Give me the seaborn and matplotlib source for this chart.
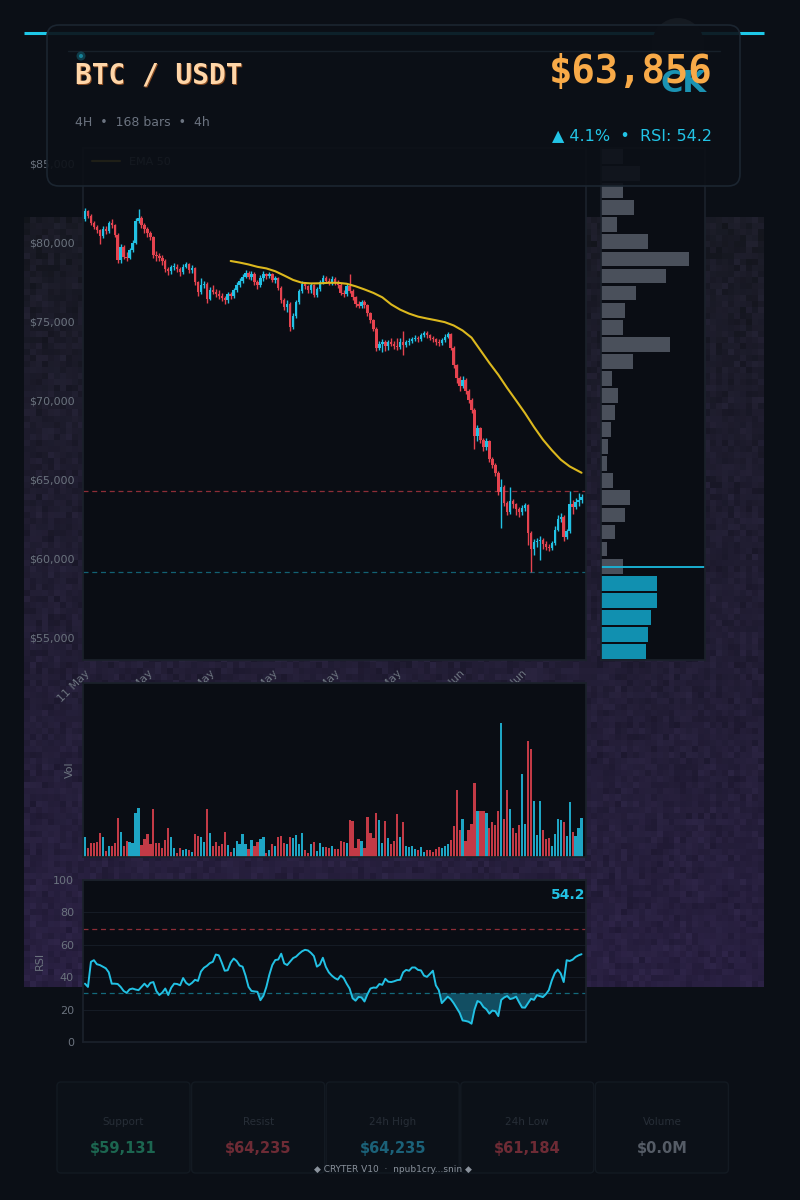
import numpy as np
import pandas as pd
import matplotlib
matplotlib.use("Agg")
import matplotlib.pyplot as plt
import seaborn as sns
from matplotlib.patches import FancyBboxPatch, Circle

# ---------------- data ----------------
START = "2024-05-11 00:00"
FIRST_OPEN = 81450
closes = [
    81950, 81650, 81200, 80950, 80750, 80400, 80850, 80700, 81200, 81050,
    80450, 78850, 79700, 79050, 79000, 79500, 79950, 81300, 81500, 81050,
    80800, 80600, 80300, 79150, 79100, 79000, 78800, 78300, 78150, 78400,
    78450, 78300, 78100, 78450, 78600, 78200, 78350, 77450, 76850, 77250,
    77350, 76400, 76950, 76850, 76700, 76600, 76450, 76300, 76700, 76600,
    76950, 77300, 77550, 77800, 78050, 77800, 78000, 77500, 77300, 77700,
    77950, 77850, 77950, 77600, 77700, 77100, 76300, 75900, 76100, 74650,
    75350, 76200, 76900, 77350, 77200, 76950, 77250, 76650, 77000, 77450,
    77700, 77550, 77400, 77650, 77450, 77300, 76800, 76700, 77200, 76900,
    76500, 76050, 75950, 76200, 76000, 75500, 75050, 74500, 73300, 73550,
    73700, 73400, 73650, 73550, 73450, 73350, 73700, 73500, 73650, 73750,
    73850, 73950, 73850, 74100, 74250, 74100, 73950, 73850, 73700, 73600,
    73800, 74000, 74150, 73300, 72200, 71400, 70900, 71300, 70600, 70000,
    69400, 67700, 68200, 67500, 67000, 67400, 66300, 65900, 65400, 64200,
    64500, 63500, 62900, 63600, 63400, 63100, 62900, 63200, 63350, 61600,
    60600, 61000, 61050, 61150, 60900, 60700, 60650, 60950, 61800, 62450,
    62600, 61330, 61700, 63400, 63250, 63550, 63700, 63856]
highs = [
    82150, 82050, 81750, 81350, 81100, 80850, 81000, 81000, 81350, 81450,
    81150, 80550, 79850, 79800, 79350, 79650, 80100, 81500, 82100, 81650,
    81200, 80950, 80700, 80400, 79450, 79300, 79150, 78900, 78450, 78550,
    78650, 78600, 78400, 78600, 78750, 78700, 78550, 78450, 77550, 77700,
    77550, 77500, 77150, 77250, 77000, 76950, 76800, 76600, 76850, 76850,
    77100, 77450, 77700, 77950, 78250, 78150, 78150, 78100, 77600, 77900,
    78150, 78050, 78100, 78050, 77850, 77800, 77200, 76450, 76300, 76200,
    75500, 76350, 77050, 77550, 77500, 77300, 77400, 77350, 77150, 77600,
    77900, 77850, 77700, 77850, 77800, 77600, 77400, 76950, 77350, 77950,
    77000, 76600, 76250, 76350, 76300, 76100, 75600, 75150, 74600, 73750,
    73850, 73800, 73800, 73950, 73750, 73900, 73900, 74350, 73800, 73900,
    74000, 74100, 74050, 74250, 74400, 74350, 74200, 74050, 73950, 73850,
    73950, 74150, 74300, 74250, 73400, 72300, 71500, 71550, 71400, 70700,
    70100, 69500, 68400, 68300, 67600, 67600, 67500, 66400, 66000, 65500,
    65000, 64600, 63600, 64500, 63750, 63500, 63250, 63350, 63500, 63450,
    61700, 61200, 61300, 61400, 61300, 61050, 60900, 61100, 62000, 62700,
    62850, 62700, 61850, 64235, 63650, 63800, 64100, 64050]
lows = [
    81300, 81500, 81050, 80800, 80600, 79900, 80250, 80500, 80600, 80900,
    80300, 78700, 78700, 78900, 78800, 78900, 79350, 79850, 81200, 80900,
    80600, 80300, 80100, 79000, 78800, 78800, 78550, 78100, 77900, 78000,
    78250, 78100, 77850, 77950, 78350, 78050, 78050, 77300, 76600, 76700,
    77100, 76150, 76300, 76700, 76500, 76400, 76250, 76050, 76150, 76400,
    76450, 76850, 77150, 77400, 77700, 77650, 77600, 77300, 77000, 77150,
    77550, 77650, 77700, 77450, 77400, 76950, 76150, 75700, 75600, 74400,
    74500, 75200, 76100, 76800, 77000, 76800, 76750, 76500, 76500, 76900,
    77350, 77400, 77250, 77300, 77300, 77100, 76650, 76550, 76600, 76750,
    76350, 75900, 75800, 75800, 75800, 75350, 74900, 74350, 73100, 73150,
    73050, 73100, 73150, 73400, 73250, 73150, 73250, 72850, 73350, 73500,
    73600, 73750, 73700, 73750, 74000, 73950, 73800, 73700, 73500, 73400,
    73500, 73700, 73900, 73150, 72000, 71100, 70600, 70750, 70400, 69800,
    69200, 66900, 67400, 67300, 66800, 66850, 66100, 65700, 65200, 64000,
    61900, 63300, 62700, 62800, 63200, 62700, 62600, 62700, 63000, 60800,
    59131, 60200, 60700, 59900, 60600, 60500, 60450, 60500, 60850, 61700,
    62300, 61100, 61184, 61600, 62800, 63100, 63300, 63500]
volumes = [
    61, 28, 41, 41, 44, 72, 61, 18, 34, 34,
    42, 118, 76, 34, 48, 45, 42, 132, 145, 36,
    53, 70, 38, 143, 43, 43, 26, 52, 88, 61,
    26, 13, 28, 20, 23, 22, 16, 70, 64, 61,
    45, 143, 73, 34, 44, 33, 40, 75, 36, 16,
    28, 48, 40, 68, 38, 23, 50, 32, 44, 53,
    61, 13, 20, 38, 32, 60, 62, 42, 40, 60,
    56, 66, 38, 72, 20, 13, 38, 44, 18, 42,
    31, 31, 28, 34, 23, 23, 47, 46, 41, 110,
    108, 28, 53, 48, 28, 120, 71, 58, 132, 110,
    43, 107, 58, 38, 48, 130, 60, 106, 32, 31,
    32, 23, 22, 31, 16, 22, 22, 16, 25, 30,
    26, 34, 40, 50, 93, 200, 80, 113, 48, 81,
    98, 222, 138, 138, 136, 131, 88, 106, 96, 138,
    400, 113, 200, 144, 87, 73, 96, 248, 98, 348,
    323, 168, 66, 166, 80, 54, 56, 34, 68, 113,
    110, 104, 62, 163, 76, 62, 88, 116]
rsi = [
    36, 34, 49.5, 50.5, 48, 47.5, 46.5, 45.5, 43, 36,
    36, 35.8, 34, 31.5, 30.3, 32.5, 33, 32.4, 32, 34,
    36, 34, 36.5, 37, 31.5, 29, 30.5, 33, 29, 33.5,
    36, 35.8, 35, 39.5, 36.5, 35.2, 36.5, 38.4, 37.7, 43.5,
    45.8, 47, 48.7, 49.5, 54, 53.5, 49, 44, 44.3, 49,
    51.5, 50, 47.2, 46.5, 41, 34, 31.5, 31.2, 31, 25.8,
    28.5, 34, 41.5, 47.5, 50.6, 50.9, 54.5, 48.5, 47.5, 49.7,
    51.8, 52.7, 54.5, 56, 56.9, 56.5, 55, 53, 46.5, 47.8,
    52, 46.4, 43, 41, 39.5, 38.5, 41, 39.5, 36, 33,
    27, 25.5, 27.8, 27.5, 25, 29.5, 33, 33.6, 33.5, 35.8,
    35.3, 39, 37.2, 37, 37.5, 38.2, 38.4, 43, 44.5, 44,
    46, 46, 44.5, 44.2, 41, 40.2, 42, 44, 35, 32,
    24, 26, 28, 26.5, 24, 21, 18, 13.3, 13, 12.5,
    11.3, 20, 25.3, 24.4, 21.6, 20.2, 17.5, 19.4, 19, 16,
    26, 27.5, 28.4, 26.5, 27, 28, 24.5, 21.3, 21.2, 24,
    26.7, 26, 28.9, 28.3, 27.7, 29.5, 32, 38, 42.5, 44.7,
    42.3, 37, 50.5, 50, 50.8, 52.5, 53.5, 54.2]
ema_bar = [49, 52, 55, 58, 61, 64, 67, 70, 73, 76, 79, 82, 85, 88, 91, 94,
           97, 100, 103, 106, 109, 112, 115, 118, 121, 124, 127, 130, 133,
           136, 139, 142, 145, 148, 151, 154, 157, 160, 163, 166, 167]
ema_val = [78800, 78700, 78580, 78430, 78330, 78150, 77880, 77600, 77420,
           77380, 77390, 77420, 77420, 77360, 77200, 77000, 76780, 76500,
           76050, 75720, 75470, 75280, 75160, 75050, 74930, 74720, 74400,
           73950, 73150, 72350, 71600, 70760, 69970, 69170, 68300, 67500,
           66830, 66230, 65800, 65500, 65400]
# volume profile, bins from bottom to top
prof_vol = [45, 47, 50, 56, 56, 22, 6, 14, 24, 29, 12, 6, 7, 10, 14, 17, 11,
            32, 69, 22, 24, 35, 65, 88, 47, 16, 33, 22, 39, 22]
PROF_LO, PROF_HI = 59131, 85050
LAST_PRICE = 63856
card_labels = ["Support", "Resist", "24h High", "24h Low", "Volume"]
card_values = ["$59,131", "$64,235", "$64,235", "$61,184", "$0.0M"]
card_colors = ["#1c6650", "#6e2b35", "#1b6178", "#6e2b35", "#555c66"]

# ---------------- style ----------------
BG = "#0b0f16"
AX_BG = "#0a0d14"
UP = "#22c1e4"
DOWN = "#e5434f"
EMA_C = "#dcb81e"
GRAY = "#6b737e"
SPINE = "#1b212b"

sns.set_theme(style="dark")
plt.rcParams['font.family'] = ['DejaVu Sans']
plt.rcParams['axes.facecolor'] = AX_BG
plt.rcParams['axes.edgecolor'] = SPINE
plt.rcParams['axes.grid'] = False

fig = plt.figure(figsize=(8, 12), dpi=100, facecolor=BG)


def px_axes(l, t, r, b, **kw):
    return fig.add_axes([l / 800, 1 - b / 1200, (r - l) / 800, (b - t) / 1200], **kw)


# background texture (deterministic hash pattern)
ax_tex = px_axes(24, 217, 764, 987, zorder=-5)
gy, gx = np.mgrid[0:128, 0:124]
h = np.sin(gx * 12.9898 + gy * 78.233) * 43758.5453
nz = h - np.floor(h)
h2 = np.sin(gx * 39.346 + gy * 11.135) * 24634.6345
nz2 = h2 - np.floor(h2)
t = (gy / 127.0)[..., None]
top_c = np.array([0.10, 0.105, 0.145])
bot_c = np.array([0.16, 0.125, 0.255])
tex = (top_c * (1 - t) + bot_c * t
       + ((nz[..., None] + nz2[..., None]) / 2 - 0.5) * np.array([0.06, 0.05, 0.08]))
ax_tex.imshow(np.clip(tex, 0, 1), aspect="auto", interpolation="nearest")
ax_tex.axis("off")

n = len(closes)
x = np.arange(n)
c = np.array(closes, dtype=float)
o = np.array([FIRST_OPEN] + closes[:-1], dtype=float)
hi = np.array(highs, dtype=float)
lo = np.array(lows, dtype=float)
up = c >= o
cols = np.where(up, UP, DOWN)
dates = pd.date_range(START, periods=n, freq="4h")
XL = (-0.67, 168.5)

# ---------------- price ----------------
ax = px_axes(83, 148, 586, 660)
ax.set_facecolor(AX_BG)
ax.vlines(x, lo, hi, colors=cols, lw=1.0, zorder=2)
body = np.maximum(np.abs(c - o), 60)
ax.bar(x, body, bottom=np.minimum(o, c), width=0.82, color=cols, linewidth=0, zorder=3)
sns.lineplot(x=ema_bar, y=ema_val, ax=ax, color=EMA_C, lw=1.5, label="EMA 50", zorder=4)
support = min(lows)
resist = max(highs[-6:])
ax.axhline(resist, color=DOWN, ls=(0, (4, 3)), lw=0.9, alpha=0.6, zorder=1)
ax.axhline(support, color="#1aa7c2", ls=(0, (4, 3)), lw=0.9, alpha=0.55, zorder=1)
ax.set_xlim(*XL)
ax.set_ylim(53550, 85950)
ax.set_yticks(np.arange(55000, 85001, 5000))
ax.yaxis.set_major_formatter(matplotlib.ticker.FuncFormatter(lambda v, p: f"${v:,.0f}"))
tick_idx = x[::21]
ax.set_xticks(tick_idx)
ax.set_xticklabels([d.strftime("%d %b") for d in dates[::21]], rotation=45,
                   ha="right", rotation_mode="anchor")
ax.tick_params(colors=GRAY, labelsize=8, length=3, width=0.6, pad=3)
ax.set_xlabel("")
ax.set_ylabel("")
leg = ax.legend(loc="upper left", frameon=False, fontsize=8, labelcolor=GRAY,
                handlelength=2.5, borderaxespad=0.4)
for s in ax.spines.values():
    s.set_color(SPINE)

# ---------------- volume profile ----------------
axp = px_axes(601, 148, 705, 660)
axp.set_facecolor(AX_BG)
edges = np.linspace(PROF_LO, PROF_HI, len(prof_vol) + 1)
centers = (edges[:-1] + edges[1:]) / 2
bw = edges[1] - edges[0]
pcols = ["#1190b0" if cc < LAST_PRICE else "#4a505b" for cc in centers]
axp.barh(centers, prof_vol, height=bw * 0.87, color=pcols, linewidth=0)
axp.axhline(LAST_PRICE, color="#1aaed0", lw=1.4)
axp.set_xlim(0, max(prof_vol) * 1.18)
axp.set_ylim(PROF_LO, PROF_HI)
axp.set_xticks([])
axp.set_yticks([])
for s in axp.spines.values():
    s.set_color(SPINE)

# ---------------- volume ----------------
axv = px_axes(83, 683, 586, 857)
axv.set_facecolor(AX_BG)
axv.bar(x, volumes, width=0.75, color=cols, alpha=0.85, linewidth=0)
axv.set_xlim(*XL)
axv.set_ylim(0, max(volumes) * 1.3)
axv.set_xticks([])
axv.set_yticks([])
axv.set_ylabel("Vol", color=GRAY, fontsize=8, labelpad=6)
for s in axv.spines.values():
    s.set_color(SPINE)

# ---------------- RSI ----------------
axr = px_axes(83, 880, 586, 1042)
axr.set_facecolor(AX_BG)
r = np.array(rsi)
axr.fill_between(x, r, 30, where=r < 30, interpolate=True, color="#1b8fb0", alpha=0.5, lw=0)
sns.lineplot(x=x, y=r, ax=axr, color=UP, lw=1.4)
axr.axhline(70, color=DOWN, ls=(0, (4, 3)), lw=0.9, alpha=0.6)
axr.axhline(30, color="#1aa7c2", ls=(0, (4, 3)), lw=0.9, alpha=0.6)
axr.set_xlim(*XL)
axr.set_ylim(0, 100)
axr.set_yticks([0, 20, 40, 60, 80, 100])
axr.set_xticks([])
axr.grid(axis="y", color="#161c26", lw=0.7)
axr.tick_params(colors=GRAY, labelsize=8, length=3, width=0.6)
axr.set_xlabel("")
axr.set_ylabel("RSI", color=GRAY, fontsize=8, labelpad=6)
axr.text(0.998, 0.91, f"{rsi[-1]:.1f}", transform=axr.transAxes, ha="right", va="center",
         color=UP, fontsize=10, fontweight="bold")
for s in axr.spines.values():
    s.set_color(SPINE)

# ---------------- overlay (header, cards, footer) ----------------
ov = px_axes(0, 0, 800, 1200, zorder=10)
ov.set_xlim(0, 800)
ov.set_ylim(1200, 0)
ov.axis("off")

ov.plot([24, 764], [33, 33], color="#1ec8e8", lw=2.2, solid_capstyle="butt", zorder=1)
ov.add_patch(Circle((678, 44), 26, fc="#151a21", ec="none", zorder=1))
ov.add_patch(FancyBboxPatch((47, 25), 693, 161, boxstyle="round,pad=0,rounding_size=12",
                            fc=(0.047, 0.064, 0.09, 0.91), ec="#1b2530", lw=1.2, zorder=2))
ov.plot([68, 720], [51, 51], color="#172029", lw=1, zorder=3)
ov.add_patch(Circle((81, 56), 4.5, fc="#1ec8e8", alpha=0.25, ec="none", zorder=3))
ov.add_patch(Circle((81, 56), 2, fc="#1ec8e8", alpha=0.5, ec="none", zorder=3))

ov.text(76.5, 76.5, "BTC / USDT", family="DejaVu Sans Mono", fontweight="bold", fontsize=20,
        color="#8a4c22", va="center", ha="left", zorder=4)
ov.text(75, 75, "BTC / USDT", family="DejaVu Sans Mono", fontweight="bold", fontsize=20,
        color="#ffd6a8", va="center", ha="left", zorder=5)
ov.text(75, 122, "4H  \u2022  168 bars  \u2022  4h", fontsize=9, color="#6b7380",
        va="center", ha="left", zorder=5)
ov.text(684, 84, "CK", fontsize=22, fontweight="bold", color="#1b93b3",
        va="center", ha="center", zorder=4)
ov.text(712, 72, "$63,856", family="DejaVu Sans Mono", fontweight="bold", fontsize=28,
        color="#f8aa48", va="center", ha="right", zorder=5)
ov.text(712, 136, "\u25b2 4.1%  \u2022  RSI: 54.2", fontsize=11.5, color="#22c4e6",
        va="center", ha="right", zorder=5)

for k in range(5):
    x0 = 57 + k * 134.6
    ov.add_patch(FancyBboxPatch((x0, 1082), 133, 91, boxstyle="round,pad=0,rounding_size=4",
                                fc="#0c1118", ec="#131a22", lw=1, zorder=2))
    ov.text(x0 + 66.5, 1122, card_labels[k], fontsize=7.5, color="#272e37",
            ha="center", va="center", zorder=3)
    ov.text(x0 + 66.5, 1149, card_values[k], fontsize=10.5, color=card_colors[k],
            ha="center", va="center", fontweight="semibold", zorder=3)

ov.text(393, 1170, "\u25c6 CRYTER V10  \u00b7  npub1cry...snin \u25c6", fontsize=6.5,
        color="#8a929c", ha="center", va="center", zorder=4)

fig.savefig("out.png", dpi=100, facecolor=BG)
